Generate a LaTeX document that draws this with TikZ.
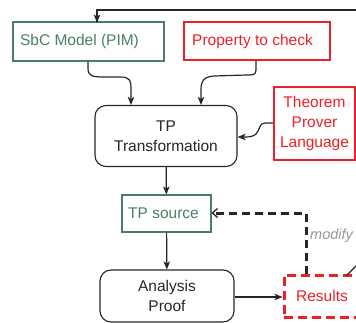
\documentclass[tikz,border=0pt]{standalone}
\usepackage{fontspec}
\setmainfont{Liberation Sans}
\usetikzlibrary{arrows.meta}
\definecolor{pimgreen}{RGB}{72,128,96}
\definecolor{tpred}{RGB}{236,32,40}
\definecolor{notegray}{RGB}{150,150,150}
\tikzset{
  box/.style={draw, line width=1.1pt, inner sep=0pt, align=center,
    font=\fontsize{15.5}{20}\selectfont},
  greenbox/.style={box, draw=pimgreen, text=pimgreen},
  redbox/.style={box, draw=tpred, text=tpred},
  roundbox/.style={box, draw=black!85, text=black!85, rounded corners=11pt},
  conn/.style={line width=1.2pt, draw=black!85,
    -{Stealth[length=8pt,width=6.5pt,inset=2pt]}},
  feedback/.style={line width=3pt, draw=black!85, dash pattern=on 8pt off 5pt,
    -{Straight Barb[length=5pt,width=9pt,line width=1.3pt]}},
}
\begin{document}
\begin{tikzpicture}[x=1pt,y=-1pt]
  \useasboundingbox (0,0) rectangle (356,322);
  \clip (0,0) rectangle (356,322);

  % model inputs
  \node[greenbox, minimum width=151pt, minimum height=39pt] (sbc) at (88.5,41.5) {\hspace*{-18pt}SbC Model (PIM)};
  \node[redbox, minimum width=146pt, minimum height=38pt] (prop) at (257,41) {\hspace*{-9pt}Property to check};

  % transformation step and target language
  \node[roundbox, minimum width=142pt, minimum height=61pt] (tpt) at (166,136) {TP\\Transformation};
  \node[redbox, minimum width=81pt, minimum height=73pt] (tpl) at (314.5,123.5) {Theorem\\Prover\\Language};

  % generated source and analysis
  \node[greenbox, minimum width=89pt, minimum height=37pt] (tps) at (166.5,213.5) {\hspace*{-6pt}TP source};
  \node[roundbox, minimum width=134pt, minimum height=52pt] (ana) at (167,296) {Analysis\\Proof};
  \node[redbox, line width=3pt, dash pattern=on 9pt off 5pt, minimum width=76pt, minimum height=42pt] (res) at (322,296) {Results};

  % loose ends of the outer loop
  \coordinate (loopin) at (360,10);
  \coordinate (loopout) at (362,260);

  % incoming feedback at the top
  \draw[conn] (loopin) -- (97,10) -- (97,22) -- (97,22.6);

  % inputs into the transformation
  \draw[conn] (sbc.south -| 88,0) -- (88,68)
    .. controls (88,76) and (92,77) .. (104,77) -- (120,77)
    .. controls (130,77) and (131,80) .. (131,90) -- (tpt.north -| 131,0);
  \draw[conn] (prop.south -| 256,0) -- (256,70)
    .. controls (256,75) and (253,75) .. (246,75) -- (214,76)
    .. controls (204,77) and (201,80) .. (201,90) -- (tpt.north -| 201,0);
  \draw[conn] (tpl.west |- 0,123) -- (265,123)
    .. controls (259,123) and (260,130) .. (256,134)
    .. controls (254,136) and (250,137) .. (246,137) -- (tpt.east |- 0,137);

  % main chain
  \draw[conn] (tpt) -- (tps);
  \draw[conn] (tps) -- (ana);
  \draw[conn] (ana.east |- 0,297) -- (res.west |- 0,297);

  % modification loop
  \draw[feedback] (res.north -| 306,0) -- (306,213) -- (tps.east |- 0,213);
  \node[font=\fontsize{14.5}{17}\itshape, text=notegray, anchor=west, inner sep=0pt] (mod) at (310,236) {modify};

  % outgoing edge towards the outer loop
  \draw[line width=1.2pt, draw=black!85] (347,275) -- (loopout);
\end{tikzpicture}
\end{document}
